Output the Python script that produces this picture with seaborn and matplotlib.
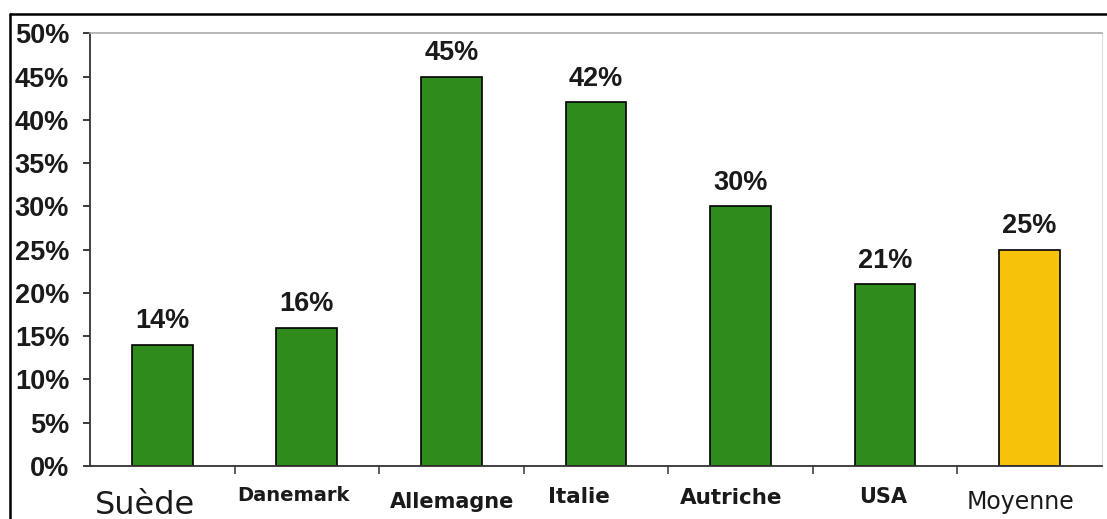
import pandas as pd
import numpy as np
import matplotlib.pyplot as plt
import matplotlib.transforms as mt
import seaborn as sns
from matplotlib.lines import Line2D
from matplotlib.ticker import MultipleLocator, PercentFormatter

### data
pays = ["Suède", "Danemark", "Allemagne", "Italie", "Autriche", "USA", "Moyenne"]
taux = [14, 16, 45, 42, 30, 21, 25]
couleurs = ["#2e8b1c"] * 6 + ["#f7c20a"]

df = pd.DataFrame({"pays": pays, "taux": taux})

sns.set_theme(style="white")
plt.rcParams["font.family"] = ["Liberation Sans", "DejaVu Sans"]

fig = plt.figure(figsize=(11.07, 5.19), dpi=100)
ax = fig.add_axes([0.0813, 0.102, 0.914, 0.834])

sns.barplot(data=df, x="pays", y="taux", hue="pays", palette=couleurs,
            saturation=1, width=0.42, edgecolor="black", linewidth=1.2,
            legend=False, ax=ax)

# value labels above bars
for i, v in enumerate(taux):
    ax.annotate(f"{v}%", (i, v), xytext=(0, 17), textcoords="offset points",
                ha="center", va="center", fontsize=19.5, fontweight="bold",
                color="#1a1a1a")

ax.set_ylim(0, 50)
ax.set_xlim(-0.5, 6.5)
ax.yaxis.set_major_locator(MultipleLocator(5))
ax.yaxis.set_major_formatter(PercentFormatter(decimals=0))
ax.set_xlabel("")
ax.set_ylabel("")

# ticks: y outward, x ticks at category boundaries
ax.tick_params(axis="y", which="major", left=True, direction="out", length=5,
               width=1.2, pad=10, labelsize=19.5, colors="#1a1a1a")
for t in ax.get_yticklabels():
    t.set_fontweight("bold")
ax.set_xticks(np.arange(len(pays)))
ax.set_xticklabels(pays)
ax.tick_params(axis="x", which="major", bottom=False, length=0, pad=0)
ax.set_xticks(np.arange(len(pays) - 1) + 0.5, minor=True)
ax.tick_params(axis="x", which="minor", bottom=True, direction="out",
               length=6, width=1.2, color="#444444")

# per-label fonts and nudges (pixels) like the original
styles = {
    "Suède": (23, "normal", -17, 8),
    "Danemark": (14, "bold", -13, -2),
    "Allemagne": (15, "bold", 1, 5),
    "Italie": (15.5, "bold", -17, 0),
    "Autriche": (15.5, "bold", -9, 1),
    "USA": (15, "bold", -2, 0),
    "Moyenne": (17, "normal", -9, 5),
}
for lab in ax.get_xticklabels():
    size, weight, dx, dy = styles[lab.get_text()]
    lab.set_fontfamily("DejaVu Sans")
    lab.set_fontsize(size)
    lab.set_fontweight(weight)
    lab.set_color("#1a1a1a")
    lab.set_verticalalignment("center")
    lab.set_transform(lab.get_transform() +
                      mt.ScaledTranslation(dx / 100, -(31 + dy) / 100, fig.dpi_scale_trans))

for side in ["left", "bottom"]:
    ax.spines[side].set_color("#333333")
    ax.spines[side].set_linewidth(1.3)
ax.spines["top"].set_color("#aaaaaa")
ax.spines["top"].set_linewidth(1.2)
ax.spines["right"].set_color("#dddddd")
ax.spines["right"].set_linewidth(0.8)

# outer frame of the original picture (top and left only)
fig.add_artist(Line2D([10 / 1107, 1.0], [1 - 14 / 519, 1 - 14 / 519],
                      transform=fig.transFigure, color="black", lw=1.8))
fig.add_artist(Line2D([10 / 1107, 10 / 1107], [0, 1 - 14 / 519],
                      transform=fig.transFigure, color="black", lw=1.8))

plt.savefig("out.png", dpi=100)
plt.close()
